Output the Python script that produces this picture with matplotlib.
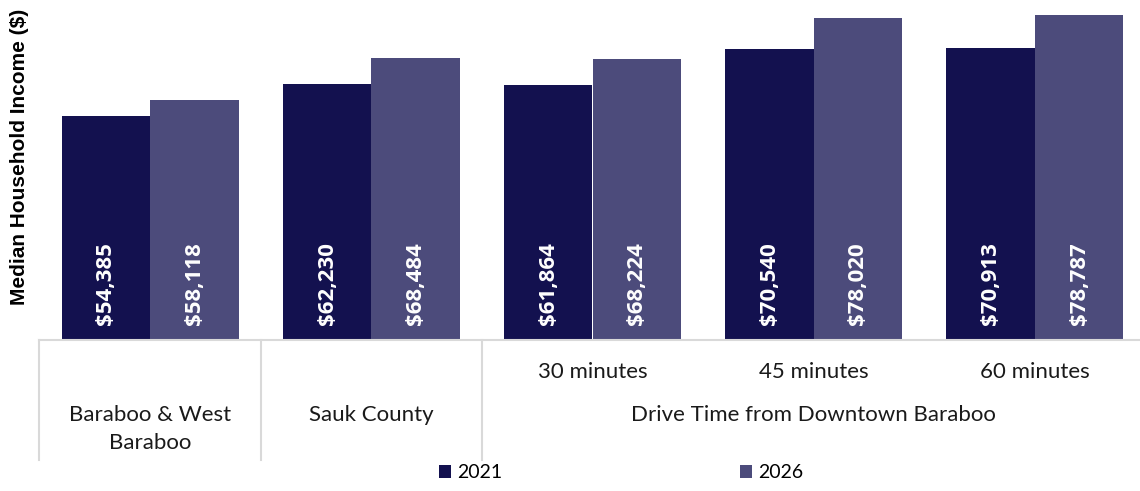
import numpy as np
import matplotlib.pyplot as plt
from matplotlib.patches import Patch
from matplotlib.transforms import blended_transform_factory

# median household income by area
areas = ["Baraboo & West\nBaraboo", "Sauk County", "30 minutes", "45 minutes", "60 minutes"]
income_2021 = [54385, 62230, 61864, 70540, 70913]
income_2026 = [58118, 68484, 68224, 78020, 78787]
years = ["2021", "2026"]
colors = ["#13114F", "#4C4B7B"]

W, H = 1140, 491
fig = plt.figure(figsize=(W / 100, H / 100), dpi=100)
# axes box in pixel units: left 39.4, right 1145.6, baseline at 340, top at 0
ax = fig.add_axes([39.4 / W, (H - 340) / H, (1145.6 - 39.4) / W, 340 / H])

x = np.arange(len(areas))
bw = 0.4
bars1 = ax.bar(x - bw / 2, income_2021, bw, color=colors[0], edgecolor="none")
bars2 = ax.bar(x + bw / 2, income_2026, bw, color=colors[1], edgecolor="none")

ax.set_xlim(-0.5, len(areas) - 0.5)
ax.set_ylim(0, 82500)
for s in ["top", "right", "left"]:
    ax.spines[s].set_visible(False)
ax.spines["bottom"].set_color("#D9D9D9")
ax.spines["bottom"].set_linewidth(1.5)
ax.set_xticks([])
ax.set_yticks([])

# value labels inside the bars, rotated
for bars, vals in [(bars1, income_2021), (bars2, income_2026)]:
    for b, v in zip(bars, vals):
        ax.text(b.get_x() + b.get_width() / 2, 3600, f"${v:,}", rotation=90,
                ha="center", va="bottom", color="white", fontsize=16,
                fontweight="bold", family="Open Sans")

# two-level category axis
trans = blended_transform_factory(ax.transData, ax.transAxes)
px = 1 / 340  # one pixel in axes units
label_kw = dict(transform=trans, ha="center", va="center", fontsize=16,
                family="Lato", color="#1A1A1A", clip_on=False)

for i in range(2, 5):
    ax.text(x[i], -32 * px, areas[i], **label_kw)

first, second = areas[0].split("\n")
ax.text(x[0], -75 * px, first, **label_kw)
ax.text(x[0], -103 * px, second, **label_kw)
ax.text(x[1], -75 * px, areas[1], **label_kw)
ax.text(x[3], -75 * px, "Drive Time from Downtown Baraboo", **label_kw)

for xs in [-0.5, 0.5, 1.5]:
    ax.plot([xs, xs], [0, -120 * px], transform=trans, color="#D9D9D9",
            lw=1.5, clip_on=False)

fig.text(20 / W, 1 - 157 / H, "Median Household Income ($)", rotation=90,
         ha="center", va="center", fontsize=15, fontweight="bold",
         family="Liberation Sans")

handles = [Patch(facecolor=c, edgecolor="none") for c in colors]
fig.legend(handles, years, loc="center", bbox_to_anchor=(621 / W, 1 - 473 / H),
           ncol=2, frameon=False, handlelength=0.65, handleheight=0.65,
           handletextpad=0.3, columnspacing=12.2,
           prop={"family": "Lato", "size": 14})

fig.savefig("out.png", dpi=100)
